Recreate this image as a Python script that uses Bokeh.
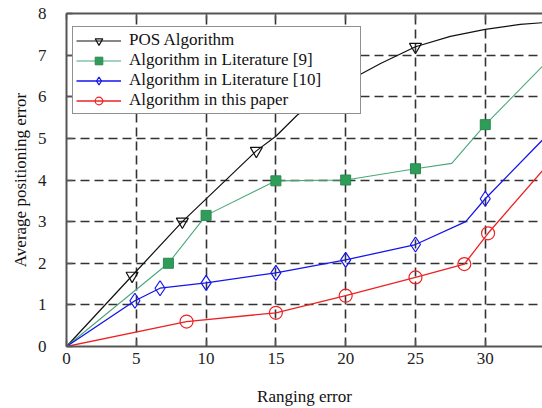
from bokeh.plotting import figure
from bokeh.models import (LinearAxis, FixedTicker, Range1d, Legend, LegendItem,
                          CustomJSTickFormatter)
from bokeh.embed import file_html
from bokeh.resources import INLINE

# ---------------- data ----------------
x_ticks = [0, 5, 10, 15, 20, 25, 30]
y_ticks = [0, 1, 2, 3, 4, 5, 6, 7, 8]

pos_x = [0, 4.7, 8.3, 13.6, 15, 16.5, 18, 20, 22.5, 25, 27.5, 30, 32.5, 35]
pos_y = [0, 1.7, 3.0, 4.7, 5.05, 5.55, 5.95, 6.35, 6.8, 7.2, 7.45, 7.62, 7.74, 7.8]
pos_mx = [4.7, 8.3, 13.6, 25]
pos_my = [1.7, 3.0, 4.7, 7.2]

lit9_x = [0, 7.3, 10, 15, 20, 25, 27.6, 30, 35]
lit9_y = [0, 2.0, 3.15, 3.98, 4.0, 4.27, 4.4, 5.33, 7.04]
lit9_mx = [7.3, 10, 15, 20, 25, 30]
lit9_my = [2.0, 3.15, 3.98, 4.0, 4.27, 5.33]

lit10_x = [0, 4.9, 6.7, 10, 15, 20, 25, 28.6, 30, 35]
lit10_y = [0, 1.1, 1.4, 1.53, 1.77, 2.08, 2.45, 3.0, 3.55, 5.27]
lit10_mx = [4.9, 6.7, 10, 15, 20, 25, 30]
lit10_my = [1.1, 1.4, 1.53, 1.77, 2.08, 2.45, 3.55]

ours_x = [0, 8.6, 15, 20, 25, 28.5, 30.2, 35]
ours_y = [0, 0.6, 0.81, 1.22, 1.66, 1.98, 2.72, 4.57]
ours_mx = [8.6, 15, 20, 25, 28.5, 30.2]
ours_my = [0.6, 0.81, 1.22, 1.66, 1.98, 2.72]

labels = ["POS Algorithm", "Algorithm in Literature [9]",
          "Algorithm in Literature [10]", "Algorithm in this paper"]

# ---------------- figure ----------------
SERIF = "Liberation Serif"
AX = "#555555"

p = figure(width=542, height=408, output_backend="svg", toolbar_location=None,
           x_range=Range1d(0, 34.1), y_range=Range1d(0, 8),
           x_axis_label="Ranging error", y_axis_label="Average positioning error",
           min_border_left=66, min_border_right=0, min_border_top=13, min_border_bottom=60)
p.outline_line_color = None
p.background_fill_color = "white"

for ax in (p.xaxis[0], p.yaxis[0]):
    ax.major_label_text_font = SERIF
    ax.major_label_text_font_size = "17px"
    ax.major_label_text_color = "#222222"
    ax.axis_label_text_font = SERIF
    ax.axis_label_text_font_size = "17px"
    ax.axis_label_text_font_style = "normal"
    ax.axis_label_text_color = "#111111"
    ax.axis_line_color = AX
    ax.axis_line_width = 2
    ax.major_tick_line_color = AX
    ax.major_tick_line_width = 1.5
    ax.major_tick_in = 6
    ax.major_tick_out = 0
    ax.minor_tick_line_color = None

p.xaxis[0].ticker = FixedTicker(ticks=x_ticks)
p.yaxis[0].ticker = FixedTicker(ticks=y_ticks)
p.xaxis[0].major_label_standoff = 6
p.xaxis[0].axis_label_standoff = 20
p.yaxis[0].major_label_standoff = 20
p.yaxis[0].axis_label_standoff = 5

top = LinearAxis(ticker=FixedTicker(ticks=x_ticks),
                 formatter=CustomJSTickFormatter(code="return ''"))
top.major_label_text_font_size = "0px"
top.major_label_standoff = 0
top.axis_line_color = AX
top.axis_line_width = 2
top.major_tick_line_color = AX
top.major_tick_line_width = 1.5
top.major_tick_in = 6
top.major_tick_out = 0
top.minor_tick_line_color = None
p.add_layout(top, "above")

p.xgrid.ticker = FixedTicker(ticks=x_ticks[1:])
p.ygrid.ticker = FixedTicker(ticks=y_ticks[1:-1])
for g in (p.xgrid[0], p.ygrid[0]):
    g.grid_line_color = "#333333"
    g.grid_line_width = 1.6
    g.grid_line_dash = "9 5"

# ---------------- series ----------------
black_l = p.line(pos_x, pos_y, line_color="#111111", line_width=1.2)
black_m = p.scatter(pos_mx, pos_my, marker="inverted_triangle", size=12,
                    line_color="#111111", line_width=1.2, fill_color=None)

green_l = p.line(lit9_x, lit9_y, line_color="#4aa878", line_width=1.1)
green_m = p.scatter(lit9_mx, lit9_my, marker="square", size=10,
                    line_color="#2a8a4f", line_width=1, fill_color="#2e9d5a")

blue_l = p.line(lit10_x, lit10_y, line_color="#1515ee", line_width=1.3)
blue_m = p.scatter(lit10_mx, lit10_my, marker="diamond", size=15,
                   line_color="#1515ee", line_width=1.2, fill_color=None)

red_l = p.line(ours_x, ours_y, line_color="#ee2222", line_width=1.3)
red_m = p.scatter(ours_mx, ours_my, marker="circle", size=13,
                  line_color="#ee2222", line_width=1.2, fill_color=None)

items = [LegendItem(label=labels[0], renderers=[black_l, black_m]),
         LegendItem(label=labels[1], renderers=[green_l, green_m]),
         LegendItem(label=labels[2], renderers=[blue_l, blue_m]),
         LegendItem(label=labels[3], renderers=[red_l, red_m])]
legend = Legend(items=items, location=(6, 232))
legend.label_text_font = SERIF
legend.label_text_font_size = "17px"
legend.label_text_color = "#111111"
legend.border_line_color = "#222222"
legend.border_line_width = 1.5
legend.background_fill_alpha = 1
legend.padding = 3
legend.spacing = 0
legend.margin = 0
legend.glyph_width = 45
legend.glyph_height = 19
legend.label_height = 19
legend.label_standoff = 8
legend.label_width = 228
p.add_layout(legend, "center")

open("out.html", "w").write(file_html(p, INLINE))
